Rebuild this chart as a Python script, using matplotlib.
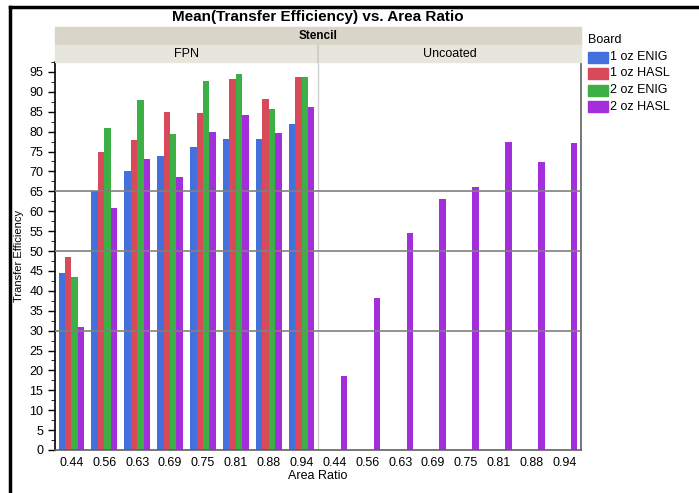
import numpy as np
import matplotlib.pyplot as plt
from matplotlib.lines import Line2D
from matplotlib.patches import Rectangle

plt.rcParams['font.family'] = ['Liberation Sans', 'DejaVu Sans']

# data
area_ratio = ['0.44', '0.56', '0.63', '0.69', '0.75', '0.81', '0.88', '0.94']
boards = ['1 oz ENIG', '1 oz HASL', '2 oz ENIG', '2 oz HASL']
colors = ['#4470DE', '#D84A5A', '#3CB044', '#A22EDC']

fpn_1oz_enig = [44.5, 65.0, 70.0, 74.0, 76.2, 78.2, 78.2, 82.0]
fpn_1oz_hasl = [48.5, 75.0, 78.0, 85.0, 84.6, 93.3, 88.2, 93.8]
fpn_2oz_enig = [43.5, 81.0, 88.0, 79.5, 92.6, 94.5, 85.6, 93.8]
fpn_2oz_hasl = [30.8, 60.8, 73.1, 68.6, 80.0, 84.3, 79.6, 86.2]
unc_2oz_hasl = [18.6, 38.1, 54.6, 63.0, 66.0, 77.5, 72.3, 77.2]

ref_lines = [30, 50, 65]

W, H = 699, 493
fig = plt.figure(figsize=(W / 100, H / 100), dpi=100)

def fx(px):
    return px / W

def fy(py):
    return 1 - py / H

L, R, T, B = 55, 581, 62, 450
ax = fig.add_axes([fx(L), fy(B), fx(R) - fx(L), fy(T) - fy(B)])

n = len(area_ratio)
x = np.arange(n)
bw = 0.195
offs = (np.arange(4) - 1.5) * bw
fpn = [fpn_1oz_enig, fpn_1oz_hasl, fpn_2oz_enig, fpn_2oz_hasl]
for i in range(4):
    ax.bar(x + offs[i], fpn[i], bw, color=colors[i], label=boards[i], zorder=2)
ax.bar(x + n + offs[3], unc_2oz_hasl, bw, color=colors[3], zorder=2)

for v in ref_lines:
    ax.axhline(v, color='#808080', lw=1.2, zorder=3)
ax.axvline(n - 0.5, color='#d0d0d0', lw=1, zorder=1)

ax.set_xlim(-0.5, 2 * n - 0.5)
ax.set_ylim(0, 97.5)
ax.set_xticks(np.arange(2 * n))
ax.set_xticklabels(area_ratio * 2, fontsize=9)
ax.set_yticks(np.arange(0, 96, 5))
ax.set_yticks(np.arange(0, 97.6, 2.5), minor=True)
ax.tick_params(axis='y', labelsize=9, length=5, width=1, direction='out')
ax.tick_params(axis='y', which='minor', length=3)
ax.tick_params(axis='x', length=0, pad=5)
ax.spines['top'].set_visible(False)
ax.spines['left'].set_linewidth(1.2)
ax.spines['bottom'].set_color('#606060')
ax.spines['right'].set_color('#606060')
ax.spines['bottom'].set_linewidth(1.2)
ax.spines['right'].set_linewidth(1.2)

ax.set_xlabel('Area Ratio', fontsize=9, labelpad=1)
ax.set_ylabel('Transfer Efficiency', fontsize=8, labelpad=4)

# header bands
fig.patches.append(Rectangle((fx(L), fy(45)), fx(R) - fx(L), fy(27) - fy(45),
                             transform=fig.transFigure, color='#D9D6C9', zorder=0))
fig.patches.append(Rectangle((fx(L), fy(62)), fx(R) - fx(L), fy(45) - fy(62),
                             transform=fig.transFigure, color='#E7E6DD', zorder=0))
fig.add_artist(Line2D([fx(318), fx(318)], [fy(62), fy(45)], color='#cfcfc8', lw=1.5))
fig.text((fx(L) + fx(R)) / 2, fy(36), 'Stencil', ha='center', va='center',
         fontsize=8.5, fontweight='bold')
fig.text((fx(L) + fx(318)) / 2, fy(54), 'FPN', ha='center', va='center', fontsize=9)
fig.text((fx(318) + fx(R)) / 2, fy(54), 'Uncoated', ha='center', va='center', fontsize=9)
fig.text(fx(318), fy(17), 'Mean(Transfer Efficiency) vs. Area Ratio', ha='center',
         va='center', fontsize=11, fontweight='bold')

# legend
fig.text(fx(588), fy(40), 'Board', ha='left', va='center', fontsize=9)
for i, b in enumerate(boards):
    yy = 57 + i * 16.5
    fig.patches.append(Rectangle((fx(588), fy(yy + 5.5)), fx(20), fy(0) - fy(11),
                                 transform=fig.transFigure, color=colors[i]))
    fig.text(fx(610), fy(yy), b, ha='left', va='center', fontsize=9)

# border
fig.add_artist(Line2D([fx(10), fx(10)], [0, fy(7)], color='black', lw=2.5))
fig.add_artist(Line2D([fx(10), 1], [fy(7), fy(7)], color='black', lw=2.5))

fig.savefig('out.png', dpi=100)
